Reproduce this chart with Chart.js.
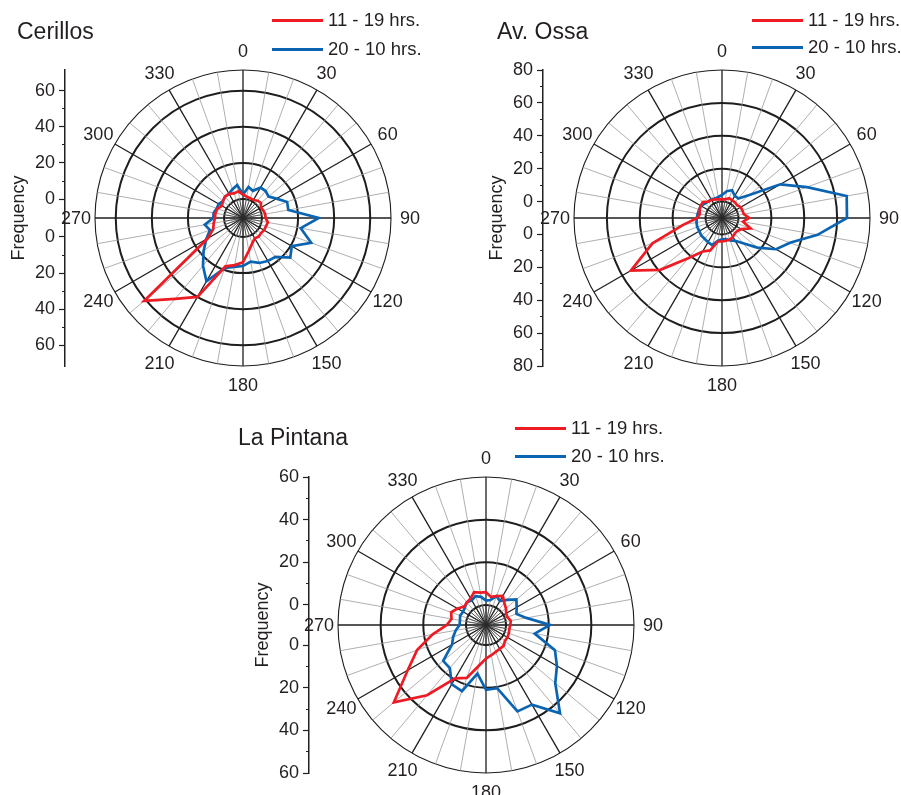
<!DOCTYPE html>
<html>
<head>
<meta charset="utf-8">
<script src="https://cdn.jsdelivr.net/npm/chart.js@4.4.1/dist/chart.umd.min.js"></script>
<style>
body { margin: 0; background: #fff; width: 901px; height: 795px; overflow: hidden; position: relative;
       font-family: "Liberation Sans", Arial, sans-serif; color: #231f20; }
canvas { position: absolute; }
.title { position: absolute; font-size: 23px; line-height: 23px; white-space: nowrap; }
.leg { position: absolute; height: 18px; display: flex; align-items: center; font-size: 18.5px; line-height: 18px; white-space: nowrap; }
.leg i { display: inline-block; width: 51px; height: 3px; margin-right: 5px; }
</style>
</head>
<body>
<canvas id="cerillos" width="440" height="400" style="left:0;top:0"></canvas>
<canvas id="ossa" width="423" height="400" style="left:478px;top:0"></canvas>
<canvas id="pintana" width="440" height="348" style="left:244px;top:447px"></canvas>

<div class="title" style="left:17px;top:20px">Cerillos</div>
<div class="title" style="left:497px;top:20px">Av. Ossa</div>
<div class="title" style="left:238px;top:426px">La Pintana</div>

<div id="leg-cerillos"></div>
<div id="leg-ossa"></div>
<div id="leg-pintana"></div>

<script>
// wind directions (degrees), one value every 10 degrees
const directions = [0, 10, 20, 30, 40, 50, 60, 70, 80, 90, 100, 110, 120, 130, 140, 150, 160, 170,
                    180, 190, 200, 210, 220, 230, 240, 250, 260, 270, 280, 290, 300, 310, 320, 330, 340, 350];
const labelledDirections = [0, 30, 60, 90, 120, 150, 180, 210, 240, 270, 300, 330];

const seriesNames = ["11 - 19 hrs.", "20 - 10 hrs."];
const seriesColors = ["#ed1c24", "#0b64b2"];

// Cerillos
const cerillosDay   = [2.5, 1.5, 1.2, 1, 2, 2.5, 1, 1.5, 2, 2, 3.5, 3, 3, 2.5, 3, 2.5, 4.5, 8,
                       14, 16, 18, 40, 48, 61, 12, 7, 6, 5, 5, 4.5, 3, 4, 5, 5, 4, 4.5];
const cerillosNight = [2.5, 7, 5.5, 9, 9, 8, 11, 15.5, 15, 31.5, 22, 29.7, 20.7, 23.7, 17.6, 17, 16, 14,
                       16, 17, 19, 30, 24, 18, 13, 9, 11, 6, 6, 5, 5, 4, 5, 5, 6.5, 8];
const cerillosRange = [-10.5, 71.5];
const cerillosTicks = [0, 20, 40, 60];
const cerillosMinor = [10, 30, 50];

// Av. Ossa
const ossaDay   = [1.5, 1.5, 2.8, 2.4, 2.4, 2, 3.2, 3.2, 3.5, 6.5, 3, 8.5, 3.6, 2.2, 2.2, 3.2, 4, 4,
                   4.3, 4.5, 11, 13.5, 22, 39, 54, 35, 14, 5, 3.7, 4.5, 5, 5.2, 3, 2.7, 2, 1.5];
const ossaNight = [4, 6.5, 8, 5.5, 5.5, 11.7, 31, 45, 67, 66, 49, 34, 28, 18, 10, 6, 4.5, 3,
                   3, 4, 7.5, 7, 6.5, 6.5, 6, 6, 5.8, 5.3, 5, 4.8, 5, 3.6, 3, 3.2, 2.5, 3];
const ossaRange = [-10, 80];
const ossaTicks = [0, 20, 40, 60, 80];
const ossaMinor = [10, 30, 50, 70];

// La Pintana
const pintanaDay   = [6, 4, 5, 6.4, 4, 2.8, 1.5, 1.3, 2.4, 2, 1.7, 2, 2.2, 2.2, 3.4, 3.5, 4, 5,
                      6.3, 10, 17, 19.5, 33.6, 47, 33, 25, 16, 9, 7, 8, 6, 4, 4.5, 5, 7, 6];
const pintanaNight = [2, 2.5, 5, 3.6, 6, 9.2, 7.2, 5.8, 9.8, 20.6, 13.8, 25, 29, 33, 44.6, 33.7, 33.7, 20.7,
                      21, 13.7, 23.6, 22.7, 17, 16.8, 9, 7, 5, 3, 3, 3.5, 3, 3.5, 4.5, 4, 5, 4];
const pintanaRange = [-9.4, 60];
const pintanaTicks = [0, 20, 40, 60];
const pintanaMinor = [10, 30, 50];

const FONT = '"Liberation Sans", Arial, sans-serif';
const INK = "#231f20";

// compass labels outside the circle + dark spokes inside the inner hole
const compassPlugin = {
    id: "compass",
    beforeDatasetsDraw(chart) {
        let s = chart.scales.r, ctx = chart.ctx;
        let r0 = s.getDistanceFromCenterForValue(0);
        ctx.save();
        ctx.strokeStyle = "#2a2a2a";
        ctx.lineWidth = 0.7;
        directions.forEach((d, i) => {
            let p = s.getPointPosition(i, r0);
            ctx.beginPath();
            ctx.moveTo(s.xCenter, s.yCenter);
            ctx.lineTo(p.x, p.y);
            ctx.stroke();
        });
        ctx.restore();
    },
    afterDraw(chart) {
        let s = chart.scales.r, ctx = chart.ctx;
        ctx.save();
        ctx.font = "18px " + FONT;
        ctx.fillStyle = INK;
        ctx.textAlign = "center";
        ctx.textBaseline = "middle";
        directions.forEach((d, i) => {
            if (!labelledDirections.includes(d)) return;
            let p = s.getPointPosition(i, s.drawingArea + 19);
            ctx.fillText(String(d), p.x, p.y + 1);
        });
        ctx.restore();
    }
};

function makeChart(id, day, night, range, axisTicks, minor, pad) {
    let rMin = range[0], rMax = range[1];
    let span = rMax - rMin;
    let rings = axisTicks.filter(v => v < rMax);
    let yTicks = [];
    axisTicks.concat(minor).forEach(v => {
        yTicks.push(v - rMin);
        yTicks.push(-(v - rMin));
    });
    let isMinor = u => minor.includes(Math.round(Math.abs(u) + rMin));

    new Chart(document.getElementById(id), {
        type: "radar",
        data: {
            labels: directions.map(String),
            datasets: [
                { label: seriesNames[0], data: day, borderColor: seriesColors[0] },
                { label: seriesNames[1], data: night, borderColor: seriesColors[1] }
            ]
        },
        options: {
            responsive: false,
            animation: false,
            layout: { padding: pad },
            plugins: { legend: { display: false }, tooltip: { enabled: false } },
            elements: {
                point: { radius: 0, hoverRadius: 0 },
                line: { tension: 0, borderWidth: 2.7, fill: false, borderJoinStyle: "miter" }
            },
            scales: {
                r: {
                    min: rMin,
                    max: rMax,
                    beginAtZero: false,
                    afterBuildTicks: s => {
                        s.ticks = [rMin].concat(rings, [rMax]).map(v => ({ value: v }));
                    },
                    ticks: { display: false },
                    pointLabels: { display: false },
                    grid: {
                        circular: true,
                        color: c => c.tick && c.tick.value === rMin ? "rgba(0,0,0,0)" : "#1e1e1e",
                        lineWidth: c => c.tick && c.tick.value === rMax ? 1.1 : 2
                    },
                    angleLines: {
                        color: c => c.index % 3 === 0 ? "#1e1e1e" : "#9b9b9b",
                        lineWidth: c => c.index % 3 === 0 ? 1.3 : 0.8
                    }
                },
                y: {
                    type: "linear",
                    position: "left",
                    min: -span,
                    max: span,
                    afterBuildTicks: s => { s.ticks = yTicks.map(u => ({ value: u })); },
                    afterFit: s => { s.width = 65; },
                    grid: {
                        drawOnChartArea: false,
                        drawTicks: true,
                        tickLength: 6,
                        tickColor: INK,
                        tickWidth: 1.2,
                        tickBorderDash: c => isMinor(c.tick.value) ? [3, 3] : [],
                        tickBorderDashOffset: c => isMinor(c.tick.value) ? 3 : 0
                    },
                    border: { display: true, color: INK, width: 1.5 },
                    ticks: {
                        autoSkip: false,
                        maxRotation: 0,
                        padding: 4,
                        color: INK,
                        font: { size: 18, family: FONT },
                        callback: u => isMinor(u) ? "" : String(Math.round(Math.abs(u) + rMin))
                    },
                    title: {
                        display: true,
                        text: "Frequency",
                        color: INK,
                        font: { size: 18, family: FONT },
                        padding: { top: 8, bottom: 0 }
                    }
                }
            }
        },
        plugins: [compassPlugin]
    });
}

function makeLegend(id, left, tops) {
    let box = document.getElementById(id);
    seriesNames.forEach((name, i) => {
        let row = document.createElement("div");
        row.className = "leg";
        row.style.left = left + "px";
        row.style.top = (tops[i] - 9) + "px";
        let line = document.createElement("i");
        line.style.background = seriesColors[i];
        row.appendChild(line);
        row.appendChild(document.createTextNode(name));
        box.appendChild(row);
    });
}

makeChart("cerillos", cerillosDay, cerillosNight, cerillosRange, cerillosTicks, cerillosMinor,
          { top: 70, bottom: 34, left: 0, right: 19 });
makeChart("ossa", ossaDay, ossaNight, ossaRange, ossaTicks, ossaMinor,
          { top: 70, bottom: 34, left: 0, right: 0 });
makeChart("pintana", pintanaDay, pintanaNight, pintanaRange, pintanaTicks, pintanaMinor,
          { top: 30, bottom: 22, left: 0, right: 21 });

makeLegend("leg-cerillos", 272, [20, 49]);
makeLegend("leg-ossa", 752, [20, 47]);
makeLegend("leg-pintana", 515, [428, 456]);
</script>
</body>
</html>
